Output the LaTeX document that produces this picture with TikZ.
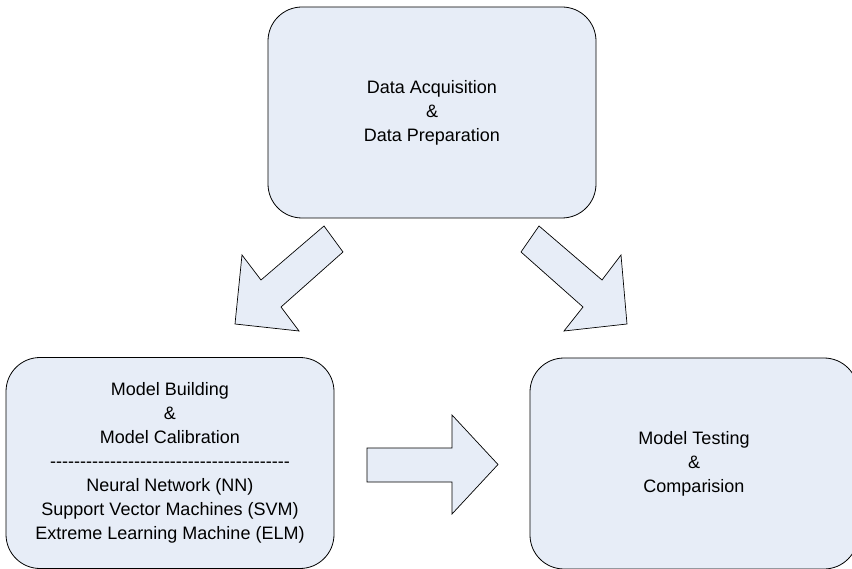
\documentclass[tikz,border=0pt]{standalone}
\usepackage{fontspec}
\setmainfont{Liberation Sans}
\definecolor{boxfill}{RGB}{231,237,247}
\newcommand{\hy}{\mbox{-}}
\newcommand{\dashrow}{\hy\hy\hy\hy\hy\hy\hy\hy\hy\hy\hy\hy\hy\hy\hy\hy\hy\hy\hy\hy\hy\hy\hy\hy\hy\hy\hy\hy\hy\hy\hy\hy\hy\hy\hy\hy\hy\hy\hy\hy}
\begin{document}
\begin{tikzpicture}[x=1pt,y=-1pt,
  stagebox/.style={draw=black, line width=0.8pt, fill=boxfill, rounded corners=34pt,
    minimum width=328pt, minimum height=211pt, inner sep=0pt, align=center,
    font=\fontsize{18}{24}\selectfont},
  blockarrow/.style={draw=black, line width=0.7pt, fill=boxfill, line join=miter}]
\useasboundingbox (0,0) rectangle (852,569);
\begin{scope}
\clip (0,0) rectangle (852,569);
\node[stagebox] (acq) at (432,112.5) {Data Acquisition\\\&\\Data Preparation};
\node[stagebox] (build) at (170,463) {Model Building\\\&\\Model Calibration\\\dashrow\\Neural Network (NN)\\Support Vector Machines (SVM)\\Extreme Learning Machine (ELM)};
\node[stagebox] (test) at (694,463.5) {Model Testing\\\&\\Comparision};
\end{scope}
% block arrows
\draw[blockarrow] (324,226) -- (343,252) -- (281,307) -- (299,331) -- (235,324) -- (242,255) -- (261,280) -- cycle;
\draw[blockarrow] (539,226) -- (521,252) -- (583,307) -- (564,331) -- (627,324) -- (621,255) -- (602,280) -- cycle;
\draw[blockarrow] (367,448) -- (452,448) -- (452,415) -- (498,464.5) -- (452,514) -- (452,482) -- (367,482) -- cycle;
\end{tikzpicture}
\end{document}
